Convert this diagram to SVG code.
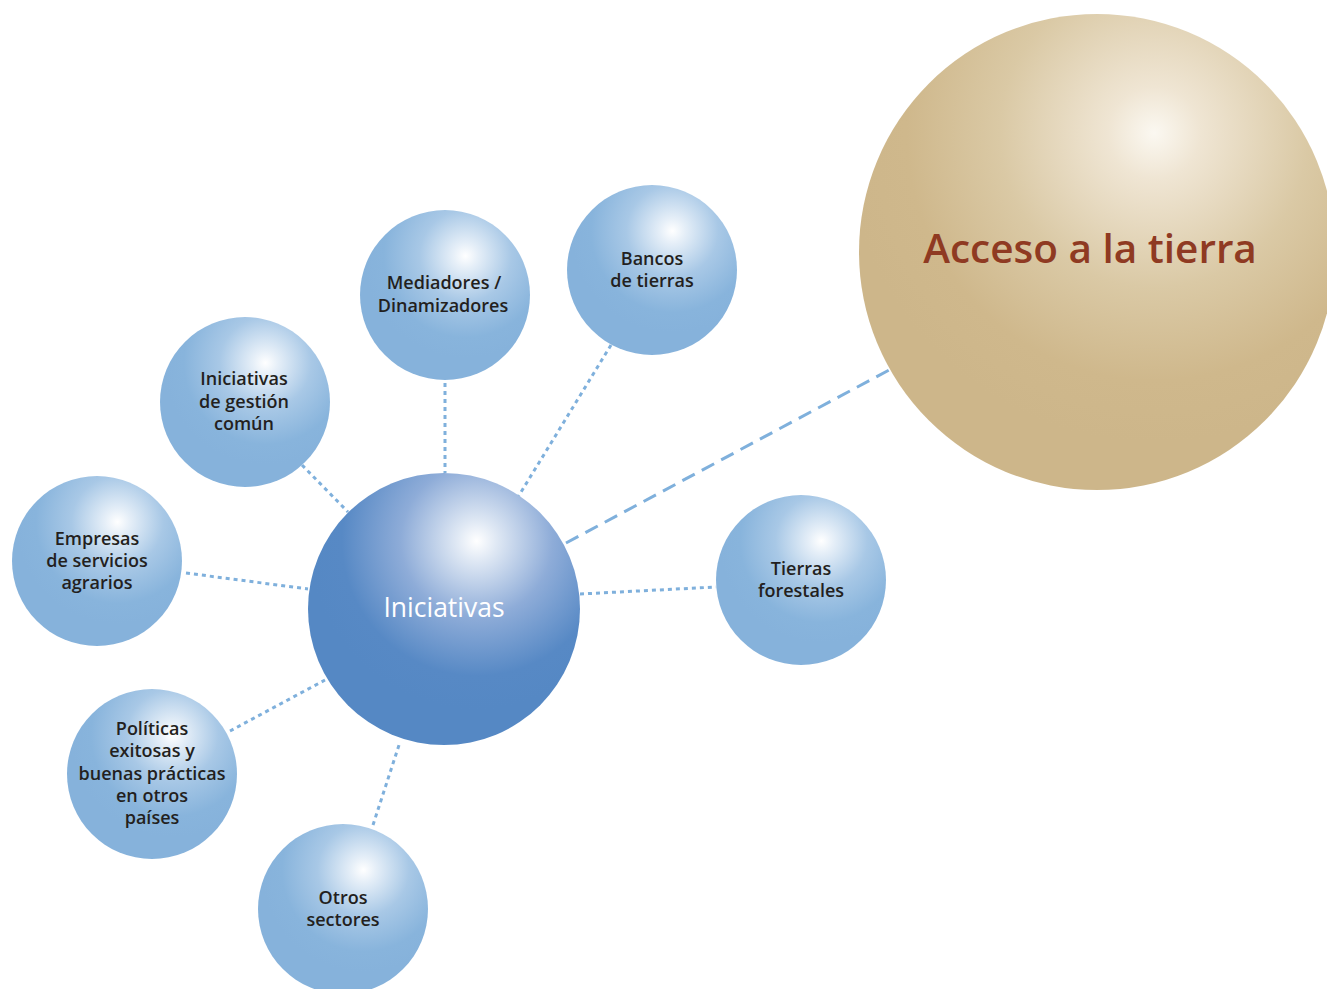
<svg xmlns="http://www.w3.org/2000/svg" width="1327" height="989" viewBox="0 0 1327 989">
<defs>
<radialGradient id="gBlue" cx="0.62" cy="0.27" r="0.6" fx="0.62" fy="0.27">
<stop offset="0" stop-color="#ffffff"/>
<stop offset="0.12" stop-color="#e6eff8"/>
<stop offset="0.45" stop-color="#a8c8e6"/>
<stop offset="0.8" stop-color="#88b4dc"/>
<stop offset="1" stop-color="#86b2db"/>
</radialGradient>
<radialGradient id="gCenter" cx="0.62" cy="0.25" r="0.62" fx="0.62" fy="0.25">
<stop offset="0" stop-color="#ffffff"/>
<stop offset="0.12" stop-color="#dfe8f4"/>
<stop offset="0.45" stop-color="#8eacd8"/>
<stop offset="0.8" stop-color="#5789c5"/>
<stop offset="1" stop-color="#5588c4"/>
</radialGradient>
<radialGradient id="gBeige" cx="0.62" cy="0.25" r="0.65" fx="0.62" fy="0.25">
<stop offset="0" stop-color="#fbf8f1"/>
<stop offset="0.15" stop-color="#efe5d3"/>
<stop offset="0.5" stop-color="#dac9a5"/>
<stop offset="0.8" stop-color="#cfb88c"/>
<stop offset="1" stop-color="#cdb68a"/>
</radialGradient>
</defs>
<style>
.dot{stroke:#7fb0dc;stroke-width:3;stroke-dasharray:4 4;fill:none}
.dash{stroke:#7fb0dc;stroke-width:3;stroke-dasharray:14 8;fill:none}
.lbl{font-family:"Open Sans","Noto Sans","Liberation Sans",sans-serif;font-weight:600;font-size:18px;fill:#231f20;text-anchor:middle}
.ctr{font-family:"Open Sans","Noto Sans","Liberation Sans",sans-serif;font-size:26.5px;fill:#ffffff;text-anchor:middle}
.big{font-family:"Open Sans","Noto Sans","Liberation Sans",sans-serif;font-weight:600;font-size:40.5px;fill:#8f3a22;text-anchor:middle}
</style>
<rect width="1327" height="989" fill="#ffffff"/>
<g id="connectors">
<line class="dot" x1="445" y1="383" x2="445" y2="473"/>
<line class="dot" x1="611" y1="345" x2="518" y2="497"/>
<line class="dot" x1="302" y1="465" x2="348" y2="512"/>
<line class="dot" x1="186" y1="573" x2="308" y2="589"/>
<line class="dot" x1="230" y1="731" x2="325" y2="680"/>
<line class="dot" x1="373" y1="825" x2="400" y2="742"/>
<line class="dot" x1="580" y1="594" x2="716" y2="587"/>
<line class="dash" x1="566" y1="543" x2="891" y2="369"/>
</g>
<g id="acceso">
<circle cx="1097" cy="252" r="238" fill="url(#gBeige)"/>
<text class="big" x="1090" y="263">Acceso a la tierra</text>
</g>
<g id="iniciativas">
<circle cx="444" cy="609" r="136" fill="url(#gCenter)"/>
<text class="ctr" x="444" y="617">Iniciativas</text>
</g>
<g id="mediadores">
<circle cx="445" cy="295" r="85" fill="url(#gBlue)"/>
<text class="lbl" x="444" y="289">Mediadores /</text>
<text class="lbl" x="443" y="312">Dinamizadores</text>
</g>
<g id="bancos">
<circle cx="652" cy="270" r="85" fill="url(#gBlue)"/>
<text class="lbl" x="652" y="265">Bancos</text>
<text class="lbl" x="652" y="287">de tierras</text>
</g>
<g id="gestion">
<circle cx="245" cy="402" r="85" fill="url(#gBlue)"/>
<text class="lbl" x="244" y="385">Iniciativas</text>
<text class="lbl" x="244" y="408">de gestión</text>
<text class="lbl" x="244" y="430">común</text>
</g>
<g id="empresas">
<circle cx="97" cy="561" r="85" fill="url(#gBlue)"/>
<text class="lbl" x="97" y="545">Empresas</text>
<text class="lbl" x="97" y="567">de servicios</text>
<text class="lbl" x="97" y="589">agrarios</text>
</g>
<g id="politicas">
<circle cx="152" cy="774" r="85" fill="url(#gBlue)"/>
<text class="lbl" x="152" y="735">Políticas</text>
<text class="lbl" x="152" y="757">exitosas y</text>
<text class="lbl" x="152" y="780">buenas prácticas</text>
<text class="lbl" x="152" y="802">en otros</text>
<text class="lbl" x="152" y="824">países</text>
</g>
<g id="otros">
<circle cx="343" cy="909" r="85" fill="url(#gBlue)"/>
<text class="lbl" x="343" y="904">Otros</text>
<text class="lbl" x="343" y="926">sectores</text>
</g>
<g id="tierras">
<circle cx="801" cy="580" r="85" fill="url(#gBlue)"/>
<text class="lbl" x="801" y="575">Tierras</text>
<text class="lbl" x="801" y="597">forestales</text>
</g>
</svg>
